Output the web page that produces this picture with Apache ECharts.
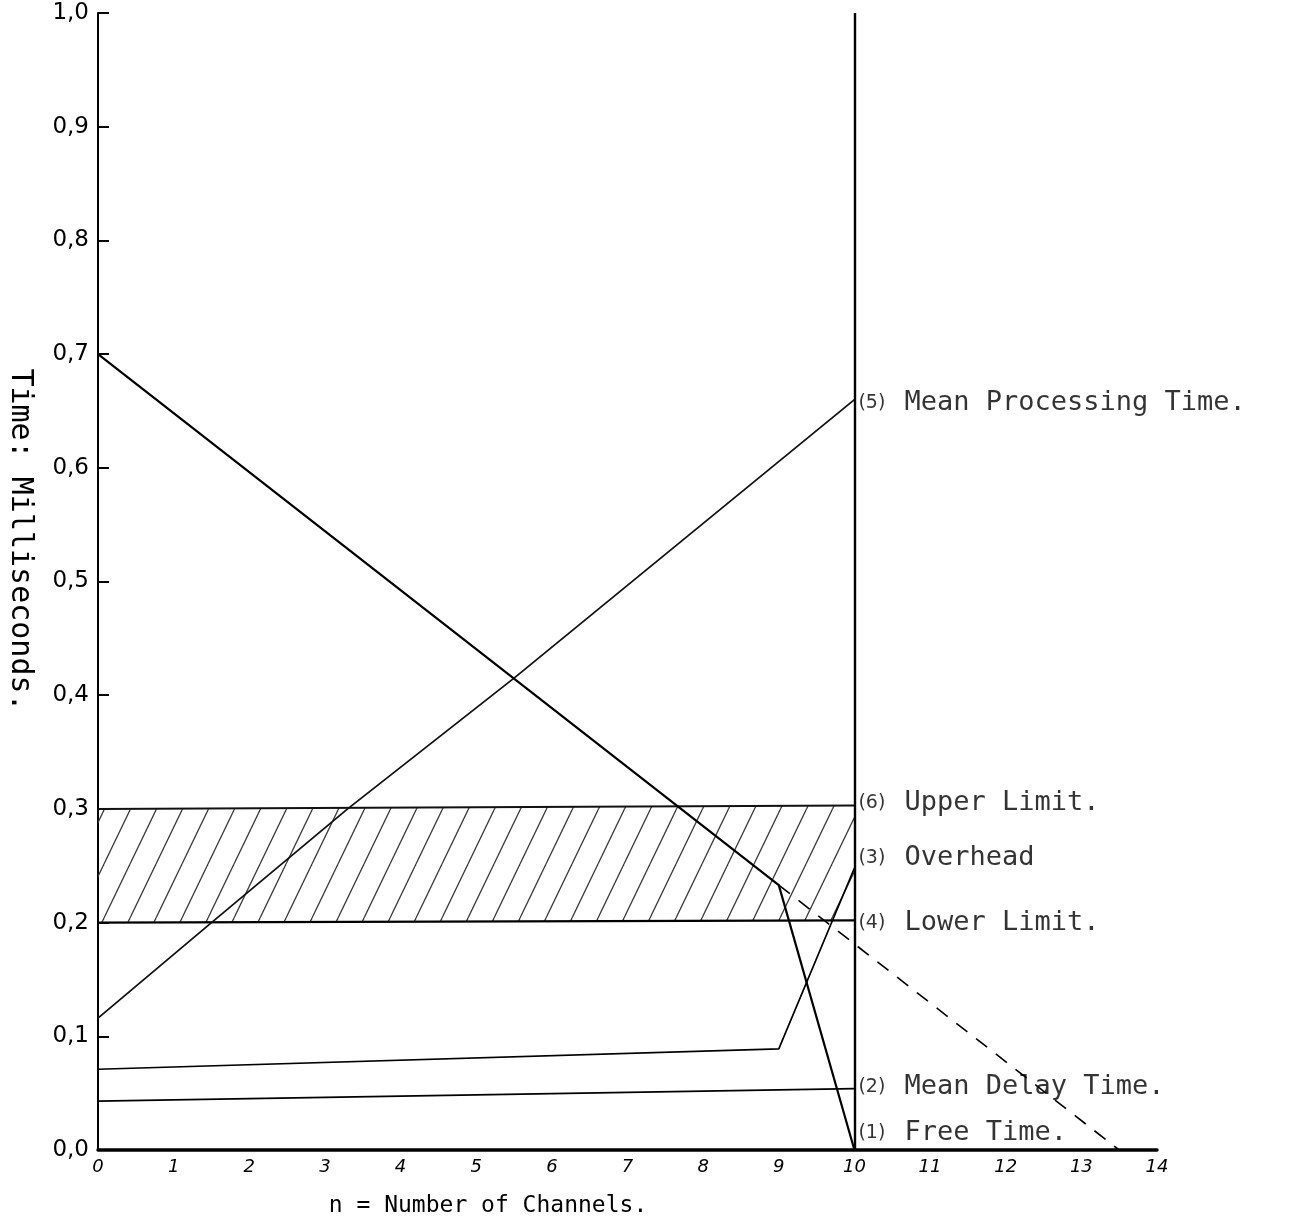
<!DOCTYPE html>
<html>
<head>
<meta charset="utf-8">
<script src="https://cdn.jsdelivr.net/npm/echarts@6/dist/echarts.min.js"></script>
<style>
  html, body { margin: 0; padding: 0; background: #ffffff; }
  #chart { width: 1309px; height: 1223px; }
</style>
</head>
<body>
<div id="chart"></div>
<script>
// ---- data ----
const xTicks = [0, 1, 2, 3, 4, 5, 6, 7, 8, 9, 10, 11, 12, 13, 14];
const yTicks = [0.0, 0.1, 0.2, 0.3, 0.4, 0.5, 0.6, 0.7, 0.8, 0.9, 1.0];

const nProcessing = [0, 1.5, 3.3, 5.5, 10];
const meanProcessing = [0.116, 0.2, 0.3, 0.415, 0.66];

const nFree = [0, 9, 10, 14];
const freeTime = [0.70, 0.233, 0.0, 0.0];

const nFreeExt = [9, 13.5];
const freeTimeExt = [0.233, 0.0];

const nOverhead = [0, 9, 10];
const overhead = [0.071, 0.089, 0.248];

const nDelay = [0, 10];
const meanDelay = [0.043, 0.054];

const nLimits = [0, 10];
const upperLimit = [0.300, 0.303];
const lowerLimit = [0.200, 0.202];

const channelLimit = 10;

const annotationNums = ['(5)', '(6)', '(3)', '(4)', '(2)', '(1)'];
const annotationTexts = ['Mean Processing Time.', 'Upper Limit.', 'Overhead', 'Lower Limit.', 'Mean Delay Time.', 'Free Time.'];
const annotationY = [0.657, 0.305, 0.257, 0.200, 0.055, 0.015];

// ---- helpers ----
const pair = (xs, ys) => xs.map((x, i) => [x, ys[i]]);

// hatch pattern
const tile = document.createElement('canvas');
tile.width = 26; tile.height = 54;
(function () {
  const c = tile.getContext('2d');
  c.strokeStyle = '#3a3a3a';
  c.lineWidth = 1.3;
  for (const off of [-26, 0, 26]) {
    c.beginPath();
    c.moveTo(off, 54);
    c.lineTo(off + 26, 0);
    c.stroke();
  }
})();
const hatch = { image: tile, repeat: 'repeat' };

const mono = "'DejaVu Sans Mono', monospace";
const lineBase = { type: 'line', symbol: 'none', silent: true, animation: false };

const chart = echarts.init(document.getElementById('chart'), null, { renderer: 'canvas' });

const option = {
  backgroundColor: '#ffffff',
  animation: false,
  grid: { left: 98, right: 152, top: 13, bottom: 73, containLabel: false },
  xAxis: {
    type: 'value', min: 0, max: 14, interval: 1,
    axisLine: { show: true, lineStyle: { color: '#000', width: 3.5 } },
    axisTick: { show: false },
    splitLine: { show: false },
    axisLabel: {
      color: '#000', fontSize: 18, fontStyle: 'italic', fontFamily: "'DejaVu Sans', sans-serif",
      margin: 8,
      formatter: v => xTicks.includes(v) ? String(v) : ''
    }
  },
  yAxis: {
    type: 'value', min: 0, max: 1, interval: 0.1,
    axisLine: { show: true, lineStyle: { color: '#000', width: 2 } },
    axisTick: { show: true, inside: true, length: 11, lineStyle: { color: '#000', width: 2 } },
    splitLine: { show: false },
    axisLabel: {
      color: '#000', fontSize: 23, fontFamily: "'DejaVu Sans', sans-serif",
      margin: 9,
      formatter: v => {
        const t = yTicks.find(y => Math.abs(y - v) < 1e-6);
        return t === undefined ? '' : t.toFixed(1).replace('.', ',');
      }
    }
  },
  graphic: [
    {
      type: 'text', x: 20, y: 540, rotation: -Math.PI / 2,
      style: { text: 'Time: Milliseconds.', font: "30px " + mono, fill: '#000', align: 'center', verticalAlign: 'middle' }
    },
    {
      type: 'text', x: 488, y: 1206,
      style: { text: 'n = Number of Channels.', font: "23px " + mono, fill: '#000', align: 'center', verticalAlign: 'middle' }
    }
  ],
  series: [
    {
      type: 'custom', name: 'band', silent: true, z: 1,
      data: nLimits.map((n, i) => [n, lowerLimit[i], upperLimit[i]]),
      encode: { x: 0, y: [1, 2] },
      renderItem: function (params, api) {
        if (params.dataIndex !== 0) return null;
        const pts = [];
        for (let i = 0; i < nLimits.length; i++) pts.push(api.coord([nLimits[i], lowerLimit[i]]));
        for (let i = nLimits.length - 1; i >= 0; i--) pts.push(api.coord([nLimits[i], upperLimit[i]]));
        return { type: 'polygon', shape: { points: pts }, style: { fill: hatch, stroke: null } };
      }
    },
    Object.assign({}, lineBase, { name: 'Upper Limit', z: 3, data: pair(nLimits, upperLimit), lineStyle: { color: '#111', width: 2 } }),
    Object.assign({}, lineBase, { name: 'Lower Limit', z: 3, data: pair(nLimits, lowerLimit), lineStyle: { color: '#000', width: 2.2 } }),
    Object.assign({}, lineBase, { name: 'Mean Processing Time', z: 4, data: pair(nProcessing, meanProcessing), lineStyle: { color: '#111', width: 1.8 } }),
    Object.assign({}, lineBase, { name: 'Free Time', z: 4, data: pair(nFree, freeTime), lineStyle: { color: '#000', width: 2.2 } }),
    Object.assign({}, lineBase, { name: 'Free Time ext', z: 4, data: pair(nFreeExt, freeTimeExt), lineStyle: { color: '#000', width: 1.6, type: [14, 11] } }),
    Object.assign({}, lineBase, { name: 'Overhead', z: 4, data: pair(nOverhead, overhead), lineStyle: { color: '#000', width: 1.7 } }),
    Object.assign({}, lineBase, {
      name: 'Mean Delay Time', z: 4, data: pair(nDelay, meanDelay), lineStyle: { color: '#000', width: 1.8 },
      markLine: {
        silent: true, symbol: 'none', animation: false,
        label: { show: false },
        lineStyle: { color: '#000', width: 2.4, type: 'solid' },
        data: [{ xAxis: channelLimit }]
      }
    }),
    {
      type: 'scatter', name: 'labels', silent: true, z: 6,
      symbolSize: 0,
      itemStyle: { color: 'rgba(0,0,0,0)' },
      data: annotationY.map((y, i) => ({ value: [channelLimit, y] })),
      label: {
        show: true, position: 'right', distance: 4, color: '#000',
        formatter: p => '{n|' + annotationNums[p.dataIndex] + '}{t|' + annotationTexts[p.dataIndex] + '}',
        rich: {
          n: { fontFamily: "'DejaVu Sans', sans-serif", fontSize: 19, color: '#000', width: 46 },
          t: { fontFamily: mono, fontSize: 27, color: '#000' }
        }
      }
    }
  ]
};

chart.setOption(option);
</script>
</body>
</html>
